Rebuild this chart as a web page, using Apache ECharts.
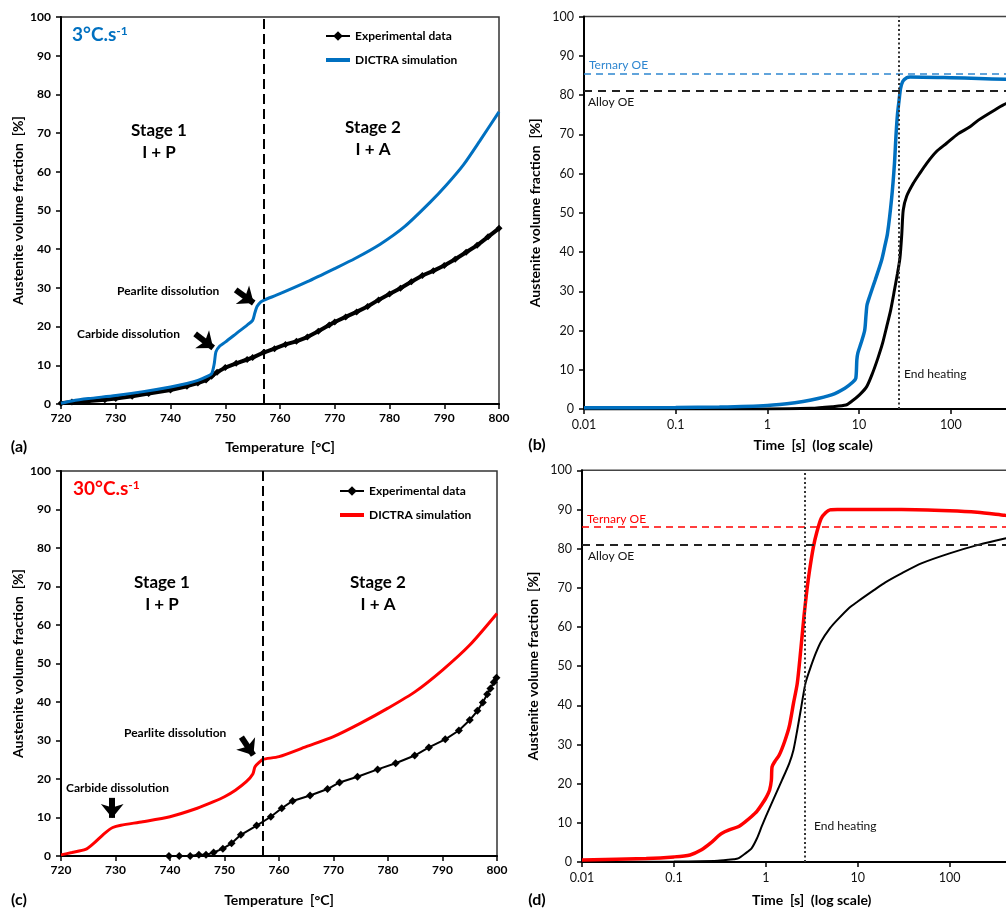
<!DOCTYPE html>
<html><head><meta charset="utf-8">
<script src="https://cdn.jsdelivr.net/npm/echarts@6/dist/echarts.min.js"></script>
<style>html,body{margin:0;padding:0;overflow:hidden;background:#fff}#c{width:1060px;height:908px}</style>
</head><body><div id="c"></div>
<script>
// ---------- data ----------
const tempTicksMin = 720, tempTicksMax = 800;
const logTicks = [0.01, 0.1, 1, 10, 100];
// (a) 3 °C/s
const expA = [[720,0.2],[722,0.5],[725,0.8],[728,1.1],[730,1.4],[733,2],[736,2.7],[740,3.6],[743,4.6],[745,5.4],[746.5,6.2],[747.5,7.2],[748.5,8.2],[750,9.4],[752,10.5],[754,11.5],[755,12],[757,13.3],[759,14.3],[761,15.4],[763,16.2],[765,17.3],[767,18.8],[769,20.4],[770,21.2],[772,22.5],[774,23.8],[776,25.2],[778,26.9],[780,28.4],[782,29.9],[784,31.6],[786,33.2],[788,34.4],[790,35.8],[792,37.4],[794,39.2],[796,41],[798,43.2],[800,45.4]];
const simA = [[720,0.2],[722,0.8],[725,1.4],[730,2.2],[735,3.2],[740,4.4],[743,5.3],[745,6.1],[746.5,7],[747.5,7.8],[748,10.5],[748.3,13.5],[749,15],[750,16],[752,18.2],[754,20.4],[755,21.6],[755.4,23.5],[755.8,25.2],[756.5,26.4],[757,26.8],[760,28.5],[765,31.6],[770,35],[773.7,37.6],[778.3,41.3],[782.8,45.9],[787.4,52.1],[790.4,56.6],[793.5,61.8],[796.5,68],[800,75.5]];
// (b) 3 °C/s, time
const simB = [[0.01,0.3],[0.1,0.4],[0.3,0.5],[1,0.9],[2,1.6],[3,2.3],[5,3.6],[7,5.3],[8.5,6.8],[9.2,7.8],[9.45,12.5],[9.7,14.3],[10.5,16.8],[11.5,20],[11.9,24],[12.2,26.5],[13,28.6],[15,32.9],[17.6,37.9],[19,41.3],[20.4,44.7],[22.7,54],[24.3,62.5],[25.3,70],[26.2,75],[27.3,78.7],[28.3,81.6],[30,83.5],[33,84.4],[36,84.6],[100,84.4],[200,84.2],[400,84],[1000,83.8]];
const alloyB = [[0.01,0],[1,0],[3,0.2],[5.07,0.6],[7.2,1],[8.25,1.9],[10.1,3.6],[12.1,5.7],[14,9.1],[16,12.9],[18,16.7],[20,21],[22.1,25.2],[24.3,30.3],[26.2,34.5],[27.9,38.5],[29.2,44.5],[30.3,50.7],[33,54.2],[39,57.5],[45.2,59.8],[54.6,62.6],[69.8,65.6],[90,67.7],[120,70.1],[162,71.9],[200,73.6],[302,76.2],[401,77.8],[1000,80.5]];
// (c) 30 °C/s
const expC = [[739.8,0],[741.7,0],[743.7,0],[745.3,0.3],[746.6,0.3],[748,0.9],[749.7,1.9],[751.3,3.3],[753,5.5],[755.9,7.9],[758.5,10.2],[760.5,12.4],[762.5,14.3],[765.7,15.7],[768.9,17.4],[771.1,19.1],[774.4,20.6],[778.1,22.5],[781.4,24.1],[784.9,26.1],[787.5,28.2],[790.5,30.3],[793,32.6],[795,35.3],[796.4,37.7],[797.4,39.9],[798.2,42],[798.8,43.5],[799.4,45.1],[799.9,46.3]];
const simC = [[720,0.3],[722,0.9],[724.5,1.7],[726,3.3],[728,5.9],[729.5,7.4],[731,8],[735,8.9],[740,10.2],[745,12.4],[748,14.1],[750,15.4],[752,17.1],[754,19.3],[755.2,21.3],[755.6,23.2],[756.5,24.5],[757,25.1],[760,25.8],[765,28.4],[770,31],[775,34.5],[780,38.4],[785,42.7],[790,48.3],[795,54.8],[800,63]];
// (d) 30 °C/s, time
const simD = [[0.01,0.5],[0.05,0.9],[0.1,1.3],[0.15,1.8],[0.2,3.1],[0.25,4.8],[0.3,6.5],[0.33,7.3],[0.4,8.2],[0.5,9],[0.6,10.3],[0.7,11.6],[0.8,12.9],[0.9,14.6],[1,16.3],[1.1,18.4],[1.15,20.9],[1.17,24.3],[1.25,25.6],[1.4,27.3],[1.6,30.7],[1.8,34.6],[2,40.5],[2.2,45.6],[2.4,54.1],[2.6,62.6],[2.8,69.4],[3,74.6],[3.3,80.5],[3.6,84.3],[4,87.7],[4.5,89.2],[5,89.9],[6,90],[10,90],[30,90],[100,89.7],[200,89.3],[400,88.5],[1000,87.5]];
const alloyD = [[0.01,0],[0.1,0.1],[0.3,0.3],[0.45,0.7],[0.5,0.9],[0.6,2.2],[0.7,3.5],[0.8,6],[0.9,9],[1,11.6],[1.2,15.8],[1.5,20.9],[1.8,25.2],[2,28.6],[2.2,33.7],[2.4,38.8],[2.7,45.6],[3,49],[3.5,53.3],[4,56.3],[5,59.7],[6,61.8],[8,64.8],[10,66.5],[15,69.4],[20,71.4],[30,73.7],[50,76.3],[100,78.8],[200,80.9],[400,82.6],[1000,84.5]];
// reference values
const stageBoundary = 757;        // °C
const ternaryOE = 85.5, alloyOE = 81; // %
const endHeatingB = 27.1, endHeatingD = 2.67; // s
const arrowsA = [[[751.9,29.5],[755.2,26.1]],[[744.5,18.1],[747.8,14.5]]];
const arrowsC = [[[753.1,30.9],[755.3,26.2]],[[729.4,15.1],[729.4,9.9]]];

// ---------- chart ----------
const FONT = 'Lato';
const chart = echarts.init(document.getElementById('c'), null, {renderer:'canvas'});
const BLUE = '#0070C0', RED = '#FF0000';
const SM = 0.25;

function xTemp(i, gap){
  return {type:'value', gridIndex:i, min:tempTicksMin, max:tempTicksMax, interval:10,
    name:'Temperature  [°C]', nameLocation:'middle', nameGap:gap,
    nameTextStyle:{fontFamily:FONT, fontWeight:'bold', fontSize:14, color:'#000'},
    axisLine:{show:true, onZero:false, lineStyle:{color:'#000', width:2}},
    axisTick:{show:true, inside:false, length:5, lineStyle:{color:'#000', width:1.5}},
    axisLabel:{fontFamily:FONT, fontWeight:'bold', fontSize:12, color:'#000', margin:8},
    splitLine:{show:false}};
}
function xLog(i, gap){
  return {type:'log', logBase:10, gridIndex:i, min:0.01, max:1000,
    name:'Time  [s]  (log scale)', nameLocation:'middle', nameGap:gap,
    nameTextStyle:{fontFamily:FONT, fontWeight:'bold', fontSize:14, color:'#000'},
    axisLine:{show:true, onZero:false, lineStyle:{color:'#000', width:2}},
    axisTick:{show:true, inside:false, length:5, lineStyle:{color:'#000', width:1.5}},
    minorTick:{show:false},
    axisLabel:{fontFamily:FONT, fontSize:12.5, color:'#111', margin:9,
      formatter:v=>{const r=Number(Number(v).toPrecision(3)); return logTicks.includes(r)?String(r):'';}},
    splitLine:{show:false}};
}
function yPct(i, gap, bold){
  return {type:'value', gridIndex:i, min:0, max:100, interval:10,
    name:'Austenite volume fraction  [%]', nameLocation:'middle', nameGap:gap,
    nameTextStyle:{fontFamily:FONT, fontWeight:'bold', fontSize:14, color:'#000'},
    axisLine:{show:true, lineStyle:{color:'#000', width:2}},
    axisTick:{show:true, inside:false, length:5, lineStyle:{color:'#000', width:1.5}},
    axisLabel:{fontFamily:FONT, fontWeight:bold?'bold':'normal', fontSize:bold?12:12.5, color:bold?'#000':'#111', margin:10},
    splitLine:{show:false}};
}
function vline(x, style){ return {silent:true, symbol:['none','none'], label:{show:false}, lineStyle:style, data:[{xAxis:x}]}; }
function arrowLines(arr){
  return {silent:true, symbol:['none','arrow'], symbolSize:[17,14], label:{show:false},
    lineStyle:{color:'#000', width:6, type:'solid'},
    data: arr.map(a=>[{coord:a[0]},{coord:a[1]}])};
}
const dashedBlack = {color:'#000', width:2, type:[10,5]};

function txt(x, y, text, opts){
  return Object.assign({type:'text', x:x, y:y, silent:true,
    style:Object.assign({text:text, font:'bold 12px '+FONT, fill:'#000', align:'left', verticalAlign:'middle'}, opts||{})});
}
function rateLabel(x, y, num, color){
  return {type:'text', x:x, y:y, silent:true, style:{
    text:'{a|'+num+'°C.s}{b|-1}', align:'left', verticalAlign:'middle',
    rich:{a:{font:'bold 19px '+FONT, fill:color, color:color}, b:{font:'bold 12px '+FONT, fill:color, color:color, verticalAlign:'top', padding:[0,0,8,0]}}}};
}
const barIcon = 'path://M0,0L24,0L24,4L0,4Z';

const option = {
  animation:false,
  backgroundColor:'#fff',
  grid:[
    {left:61, top:17, width:438, height:387, show:true, borderColor:'#333', borderWidth:1.5, containLabel:false},
    {left:584, top:16.5, width:458.5, height:392.5, show:true, borderColor:'#444', borderWidth:1.5, containLabel:false},
    {left:61, top:471, width:436, height:385, show:true, borderColor:'#333', borderWidth:1.5, containLabel:false},
    {left:582, top:470.3, width:459.5, height:391.7, show:true, borderColor:'#444', borderWidth:1.5, containLabel:false}
  ],
  xAxis:[xTemp(0,36), xLog(1,29), xTemp(2,37), xLog(3,31)],
  yAxis:[yPct(0,36,true), yPct(1,42,false), yPct(2,36,true), yPct(3,42,false)],
  legend:[
    {data:['Experimental data',{name:'DICTRA simulation', icon:barIcon}], orient:'vertical', left:320, top:25, itemWidth:24, itemHeight:12, itemGap:12,
      selectedMode:false, textStyle:{fontFamily:FONT, fontWeight:'bold', fontSize:12, color:'#000'}},
    {data:['Experimental data (c)',{name:'DICTRA simulation (c)', icon:barIcon}], orient:'vertical', left:334, top:480, itemWidth:24, itemHeight:12, itemGap:12,
      selectedMode:false, formatter:n=>n.replace(' (c)',''), textStyle:{fontFamily:FONT, fontWeight:'bold', fontSize:12, color:'#000'}}
  ],
  series:[
    {name:'Experimental data', type:'line', xAxisIndex:0, yAxisIndex:0, data:expA, symbol:'diamond', symbolSize:7, showSymbol:true,
      itemStyle:{color:'#000'}, lineStyle:{color:'#000', width:4}, z:3},
    {name:'DICTRA simulation', type:'line', xAxisIndex:0, yAxisIndex:0, data:simA, showSymbol:false, symbol:'none', smooth:SM,
      itemStyle:{color:BLUE}, lineStyle:{color:BLUE, width:3}, z:4,
      markLine:vline(stageBoundary, dashedBlack)},
    {name:'arrowsA', type:'line', xAxisIndex:0, yAxisIndex:0, data:[], markLine:arrowLines(arrowsA)},

    {name:'simB', type:'line', xAxisIndex:1, yAxisIndex:1, data:simB, showSymbol:false, symbol:'none', smooth:SM,
      lineStyle:{color:BLUE, width:3.5}, itemStyle:{color:BLUE}, z:4,
      markLine:{silent:true, symbol:['none','none'], label:{show:false}, data:[
        {yAxis:ternaryOE, lineStyle:{color:'#2E86D0', width:1.5, type:[7,5]}},
        {yAxis:alloyOE, lineStyle:{color:'#222', width:2, type:[8,6]}},
        {xAxis:endHeatingB, lineStyle:{color:'#333', width:2, type:[2,2.5]}}
      ]}},
    {name:'alloyB', type:'line', xAxisIndex:1, yAxisIndex:1, data:alloyB, showSymbol:false, symbol:'none', smooth:SM,
      lineStyle:{color:'#000', width:3}, itemStyle:{color:'#000'}, z:3},

    {name:'Experimental data (c)', type:'line', xAxisIndex:2, yAxisIndex:2, data:expC, symbol:'diamond', symbolSize:8, showSymbol:true,
      itemStyle:{color:'#000'}, lineStyle:{color:'#000', width:2}, z:3},
    {name:'DICTRA simulation (c)', type:'line', xAxisIndex:2, yAxisIndex:2, data:simC, showSymbol:false, symbol:'none', smooth:SM,
      itemStyle:{color:RED}, lineStyle:{color:RED, width:3}, z:4,
      markLine:vline(stageBoundary, dashedBlack)},
    {name:'arrowsC', type:'line', xAxisIndex:2, yAxisIndex:2, data:[], markLine:arrowLines(arrowsC)},

    {name:'simD', type:'line', xAxisIndex:3, yAxisIndex:3, data:simD, showSymbol:false, symbol:'none', smooth:SM,
      lineStyle:{color:RED, width:3.5}, itemStyle:{color:RED}, z:4,
      markLine:{silent:true, symbol:['none','none'], label:{show:false}, data:[
        {yAxis:ternaryOE, lineStyle:{color:RED, width:1.5, type:[7,5]}},
        {yAxis:alloyOE, lineStyle:{color:'#222', width:2, type:[8,6]}},
        {xAxis:endHeatingD, lineStyle:{color:'#333', width:2, type:[2,2.5]}}
      ]}},
    {name:'alloyD', type:'line', xAxisIndex:3, yAxisIndex:3, data:alloyD, showSymbol:false, symbol:'none', smooth:SM,
      lineStyle:{color:'#000', width:2}, itemStyle:{color:'#000'}, z:3}
  ],
  graphic:[
    rateLabel(72, 35, '3', BLUE),
    rateLabel(73, 489, '30', RED),
    txt(159,131,'Stage 1',{font:'bold 17px '+FONT, align:'center'}),
    txt(159,153,'I + P',{font:'bold 17px '+FONT, align:'center'}),
    txt(373,128,'Stage 2',{font:'bold 17px '+FONT, align:'center'}),
    txt(373,150,'I + A',{font:'bold 17px '+FONT, align:'center'}),
    txt(162,583,'Stage 1',{font:'bold 17px '+FONT, align:'center'}),
    txt(162,605,'I + P',{font:'bold 17px '+FONT, align:'center'}),
    txt(378,583,'Stage 2',{font:'bold 17px '+FONT, align:'center'}),
    txt(378,605,'I + A',{font:'bold 17px '+FONT, align:'center'}),
    txt(117,291,'Pearlite dissolution'),
    txt(77,334,'Carbide dissolution'),
    txt(124,733,'Pearlite dissolution'),
    txt(66,788,'Carbide dissolution'),
    txt(589,65,'Ternary OE',{font:'12px '+FONT, fill:'#2E86D0'}),
    txt(588,102,'Alloy OE',{font:'12px '+FONT, fill:'#111'}),
    txt(904,374,'End heating',{font:'12px '+FONT, fill:'#111'}),
    txt(587,519,'Ternary OE',{font:'12px '+FONT, fill:RED}),
    txt(588,556,'Alloy OE',{font:'12px '+FONT, fill:'#111'}),
    txt(814,826,'End heating',{font:'12px '+FONT, fill:'#111'}),
    txt(19,447,'(a)',{font:'bold 16px '+FONT, align:'center'}),
    txt(537,445,'(b)',{font:'bold 16px '+FONT, align:'center'}),
    txt(19,900,'(c)',{font:'bold 16px '+FONT, align:'center'}),
    txt(537,900,'(d)',{font:'bold 16px '+FONT, align:'center'})
  ]
};
chart.setOption(option);
</script></body></html>
